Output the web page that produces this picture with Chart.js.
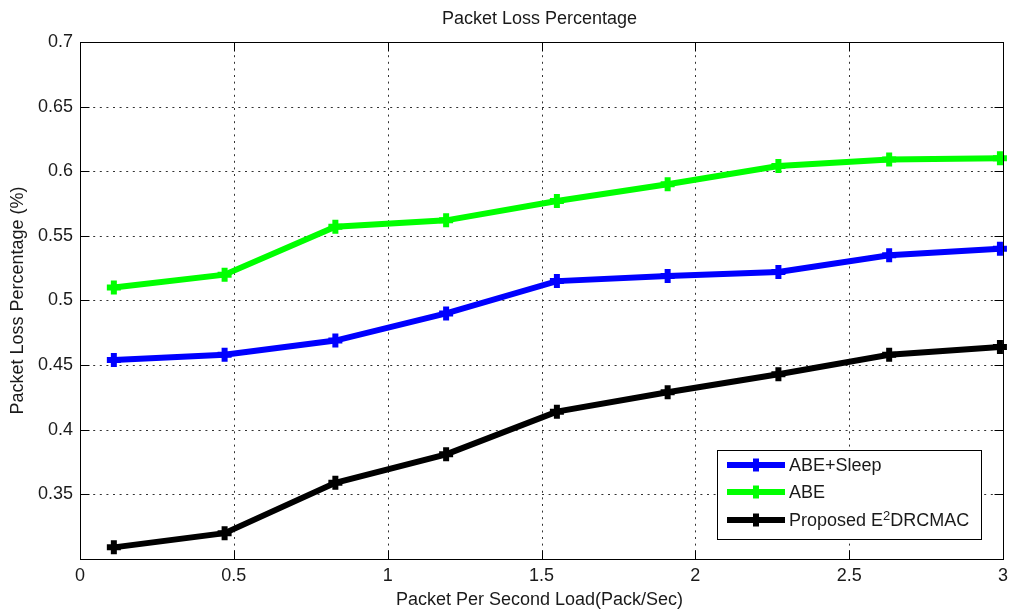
<!DOCTYPE html>
<html>
<head>
<meta charset="utf-8">
<script src="https://cdn.jsdelivr.net/npm/chart.js@4.4.1/dist/chart.umd.min.js"></script>
<style>
  html, body { margin: 0; padding: 0; background: #ffffff; }
  #wrap { width: 1011px; height: 609px; position: relative; }
</style>
</head>
<body>
<div id="wrap"><canvas id="c" width="1011" height="609"></canvas></div>
<script>
// Offered load (packets per second) at each measurement
const loads = [0.11, 0.47, 0.83, 1.19, 1.55, 1.91, 2.27, 2.63, 2.99];

// Packet loss for each scheme
const abeSleep = [0.454, 0.458, 0.469, 0.490, 0.515, 0.519, 0.522, 0.535, 0.540];
const abe      = [0.510, 0.520, 0.557, 0.562, 0.577, 0.590, 0.604, 0.609, 0.610];
const proposed = [0.309, 0.320, 0.359, 0.381, 0.414, 0.429, 0.443, 0.458, 0.464];

const seriesNames = ['ABE+Sleep', 'ABE', 'Proposed E\u00B2DRCMAC'];
const seriesColors = ['#0000ff', '#00ff00', '#000000'];

const titleText = 'Packet Loss Percentage';
const xTitle = 'Packet Per Second Load(Pack/Sec)';
const yTitle = 'Packet Loss Percentage (%)';

const FONT = '"Liberation Sans", Arial, Helvetica, sans-serif';
const TEXT = '#1a1a1a';

const toPoints = ys => ys.map((y, i) => ({ x: loads[i], y }));

const makeSet = (label, ys, color) => ({
  label,
  data: toPoints(ys),
  borderColor: color,
  backgroundColor: color,
  borderWidth: 6,
  pointStyle: 'cross',
  pointRadius: 7,
  pointHoverRadius: 7,
  pointBorderWidth: 6,
  pointBorderColor: color,
  tension: 0,
  clip: false
});

// Dotted grid, boxed axes and inward tick marks
const axesBox = {
  id: 'axesBox',
  beforeDatasetsDraw(chart) {
    const { ctx, chartArea: a, scales } = chart;
    ctx.save();
    ctx.strokeStyle = '#333';
    ctx.lineWidth = 1;
    ctx.setLineDash([2, 4.6]);
    scales.x.ticks.forEach(t => {
      const px = Math.round(scales.x.getPixelForValue(t.value)) + 0.5;
      if (px <= a.left + 1 || px >= a.right - 1) return;
      ctx.beginPath(); ctx.moveTo(px, a.top); ctx.lineTo(px, a.bottom); ctx.stroke();
    });
    scales.y.ticks.forEach(t => {
      const py = Math.round(scales.y.getPixelForValue(t.value)) + 0.5;
      if (py <= a.top + 1 || py >= a.bottom - 1) return;
      ctx.beginPath(); ctx.moveTo(a.left, py); ctx.lineTo(a.right, py); ctx.stroke();
    });
    ctx.restore();
  },
  afterDatasetsDraw(chart) {
    const { ctx, chartArea: a, scales } = chart;
    const L = Math.round(a.left) + 0.5, R = Math.round(a.right) + 0.5;
    const T = Math.round(a.top) + 0.5, B = Math.round(a.bottom) + 0.5;
    const tl = 9;
    ctx.save();
    ctx.strokeStyle = '#000';
    ctx.lineWidth = 1;
    ctx.setLineDash([]);
    ctx.strokeRect(L, T, R - L, B - T);
    ctx.beginPath();
    scales.x.ticks.forEach(t => {
      const px = Math.round(scales.x.getPixelForValue(t.value)) + 0.5;
      ctx.moveTo(px, B); ctx.lineTo(px, B - tl);
      ctx.moveTo(px, T); ctx.lineTo(px, T + tl);
    });
    scales.y.ticks.forEach(t => {
      const py = Math.round(scales.y.getPixelForValue(t.value)) + 0.5;
      ctx.moveTo(L, py); ctx.lineTo(L + tl, py);
      ctx.moveTo(R, py); ctx.lineTo(R - tl, py);
    });
    ctx.stroke();
    ctx.restore();
  },
  afterDraw(chart) {
    const { ctx, chartArea: a } = chart;
    ctx.save();
    ctx.fillStyle = TEXT;
    ctx.font = '18px ' + FONT;
    ctx.textAlign = 'center';
    ctx.textBaseline = 'middle';
    const cx = (a.left + a.right) / 2;
    ctx.fillText(titleText, cx - 2, 19);
    ctx.fillText(xTitle, cx - 2, 600);
    ctx.save();
    ctx.translate(18, (a.top + a.bottom) / 2);
    ctx.rotate(-Math.PI / 2);
    ctx.fillText(yTitle, 0, 0);
    ctx.restore();

    // Legend box
    const bx = 717.5, by = 450.5, bw = 264, bh = 89;
    ctx.fillStyle = '#fff';
    ctx.fillRect(bx, by, bw, bh);
    ctx.strokeStyle = '#000';
    ctx.lineWidth = 1;
    ctx.strokeRect(bx, by, bw, bh);
    const rows = [465, 492, 520];
    chart.data.datasets.forEach((ds, i) => {
      const y = rows[i];
      ctx.strokeStyle = ds.borderColor;
      ctx.lineWidth = 6;
      ctx.lineCap = 'butt';
      ctx.beginPath(); ctx.moveTo(727, y); ctx.lineTo(785, y); ctx.stroke();
      ctx.beginPath(); ctx.moveTo(756, y - 6.5); ctx.lineTo(756, y + 6.5); ctx.stroke();
      ctx.fillStyle = TEXT;
      ctx.textAlign = 'left';
      ctx.textBaseline = 'middle';
      ctx.font = '18px ' + FONT;
      const parts = ds.label.split('\u00B2');
      let x = 789;
      ctx.fillText(parts[0], x, y + 1);
      if (parts.length > 1) {
        x += ctx.measureText(parts[0]).width;
        ctx.font = '13px ' + FONT;
        ctx.fillText('2', x, y - 4);
        x += ctx.measureText('2').width;
        ctx.font = '18px ' + FONT;
        ctx.fillText(parts[1], x, y + 1);
      }
    });
    ctx.restore();
  }
};

new Chart(document.getElementById('c'), {
  type: 'line',
  data: {
    datasets: [
      makeSet(seriesNames[0], abeSleep, seriesColors[0]),
      makeSet(seriesNames[1], abe, seriesColors[1]),
      makeSet(seriesNames[2], proposed, seriesColors[2])
    ]
  },
  options: {
    responsive: false,
    animation: false,
    events: [],
    layout: { autoPadding: false, padding: { top: 42, right: 8, left: 0, bottom: 0 } },
    plugins: {
      legend: { display: false },
      title: { display: false },
      tooltip: { enabled: false }
    },
    scales: {
      x: {
        type: 'linear',
        min: 0, max: 3,
        grid: { display: false, drawTicks: false },
        border: { display: false },
        ticks: {
          stepSize: 0.5,
          padding: 6,
          color: TEXT,
          font: { size: 18, family: FONT },
          maxRotation: 0,
          callback: v => String(+v.toFixed(2))
        },
        afterFit(scale) {
          scale.height = 50;
          scale.paddingLeft = 0;
          scale.paddingRight = 0;
        }
      },
      y: {
        type: 'linear',
        min: 0.3, max: 0.7,
        grid: { display: false, drawTicks: false },
        border: { display: false },
        ticks: {
          stepSize: 0.05,
          padding: 7,
          color: TEXT,
          font: { size: 18, family: FONT },
          callback: v => (v < 0.301 ? '' : String(+v.toFixed(2)))
        },
        afterFit(scale) {
          scale.width = 80;
          scale.paddingTop = 0;
          scale.paddingBottom = 0;
        }
      }
    }
  },
  plugins: [axesBox]
});
</script>
</body>
</html>
